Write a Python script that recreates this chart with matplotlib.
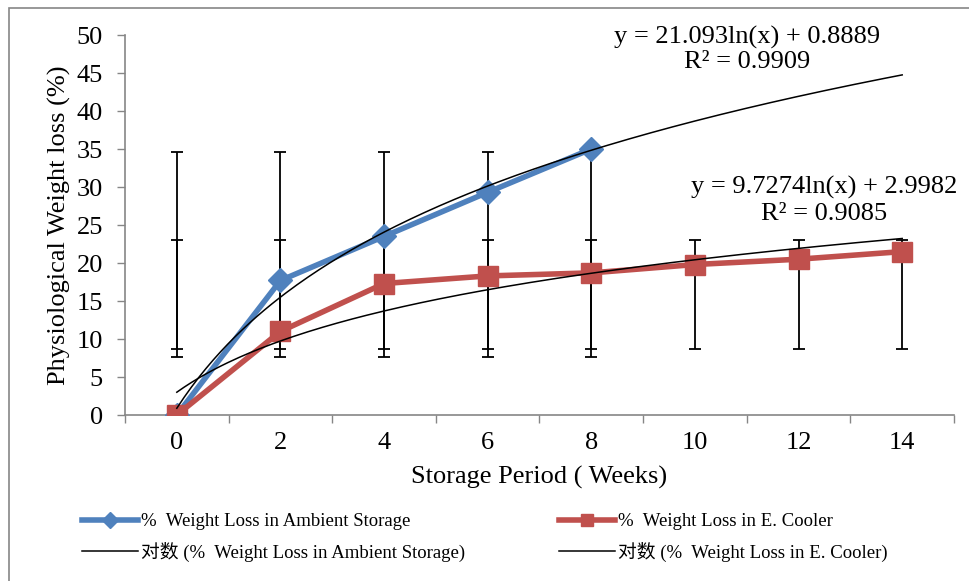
import numpy as np
import matplotlib.pyplot as plt
from matplotlib.patches import Rectangle

plt.rcParams['font.family'] = ['Liberation Serif', 'Noto Sans CJK SC']

weeks = ['0', '2', '4', '6', '8', '10', '12', '14']
ambient = [0, 17.7, 23.5, 29.3, 35.0]
cooler = [0, 11.0, 17.3, 18.3, 18.7, 19.8, 20.5, 21.5]
amb_label = '%  Weight Loss in Ambient Storage'
cool_label = '%  Weight Loss in E. Cooler'
amb_fit = (21.093, 0.8889, 0.9909)
cool_fit = (9.7274, 2.9982, 0.9085)

BLUE = '#4F81BD'
RED = '#C0504D'
GRAY = '#868686'
FS = 19

fig = plt.figure(figsize=(9.7, 5.81), dpi=100)
# outer chart border like excel (runs off right and bottom)
fig.patches.append(Rectangle((9 / 970, -0.05), 1.0, 1.05 - 8 / 581,
                             transform=fig.transFigure, fill=False,
                             edgecolor=GRAY, linewidth=1.2))
ax = fig.add_axes([125 / 970, 166 / 581, 829 / 970, 380 / 581])

xa = np.arange(len(ambient)) + 0.5
xc = np.arange(len(cooler)) + 0.5

# excel style std-dev error bars, centred on series mean
for vals, xs in ((ambient, xa), (cooler, xc)):
    m = np.mean(vals)
    sd = np.std(vals, ddof=1)
    ax.errorbar(xs, np.full(len(xs), m), yerr=sd, fmt='none', ecolor='black',
                elinewidth=1.3, capsize=4, capthick=1.3, zorder=2)

amb_line, = ax.plot(xa, ambient, color=BLUE, lw=4, marker='D', ms=12,
                    label=amb_label, zorder=3)
cool_line, = ax.plot(xc, cooler, color=RED, lw=4, marker='s', ms=14,
                     label=cool_label, zorder=3)

# log trendlines (excel uses x = 1..n)
t = np.linspace(1, len(weeks), 200)
amb_tr, = ax.plot(t - 0.5, amb_fit[0] * np.log(t) + amb_fit[1], color='black',
                  lw=1.1, zorder=4, label='对数 (' + amb_label + ')')
cool_tr, = ax.plot(t - 0.5, cool_fit[0] * np.log(t) + cool_fit[1], color='black',
                   lw=1.1, zorder=4, label='对数 (' + cool_label + ')')

ax.text(6.0, 49.7, 'y = %.3fln(x) + %.4f' % amb_fit[:2], ha='center', va='center', fontsize=FS)
ax.text(6.0, 46.5, 'R² = %.4f' % amb_fit[2], ha='center', va='center', fontsize=FS)
ax.text(6.75, 29.9, 'y = %.4fln(x) + %.4f' % cool_fit[:2], ha='center', va='center', fontsize=FS)
ax.text(6.75, 26.4, 'R² = %.4f' % cool_fit[2], ha='center', va='center', fontsize=FS)

ax.set_xlim(0, len(weeks))
ax.set_ylim(0, 50)
ax.set_yticks(range(0, 51, 5))
ax.set_xticks(range(len(weeks) + 1))
ax.set_xticklabels([])
ax.set_xticks(np.arange(len(weeks)) + 0.5, minor=True)
ax.set_xticklabels(weeks, minor=True)
ax.tick_params(axis='x', which='major', length=6, color=GRAY, width=1)
ax.tick_params(axis='x', which='minor', length=0, pad=12, labelsize=FS)
ax.tick_params(axis='y', length=6, color=GRAY, width=1, labelsize=FS, pad=10)
for s in ['top', 'right']:
    ax.spines[s].set_visible(False)
for s in ['left', 'bottom']:
    ax.spines[s].set_color(GRAY)
ax.spines['left'].set_linewidth(1.2)
ax.spines['bottom'].set_linewidth(1.2)

ax.set_xlabel('Storage Period ( Weeks)', fontsize=FS, labelpad=9)
ax.set_ylabel('Physiological Weight loss (%)', fontsize=FS, labelpad=4)

fig.legend(handles=[amb_line, amb_tr, cool_line, cool_tr], ncol=2,
           loc='upper left', bbox_to_anchor=(82 / 970, 1 - 513 / 581),
           frameon=False, fontsize=13.5, handlelength=3.0, handletextpad=0.15,
           columnspacing=5, labelspacing=0.62, markerscale=0.65,
           borderpad=0, borderaxespad=0)

fig.savefig('out.png', dpi=100)
